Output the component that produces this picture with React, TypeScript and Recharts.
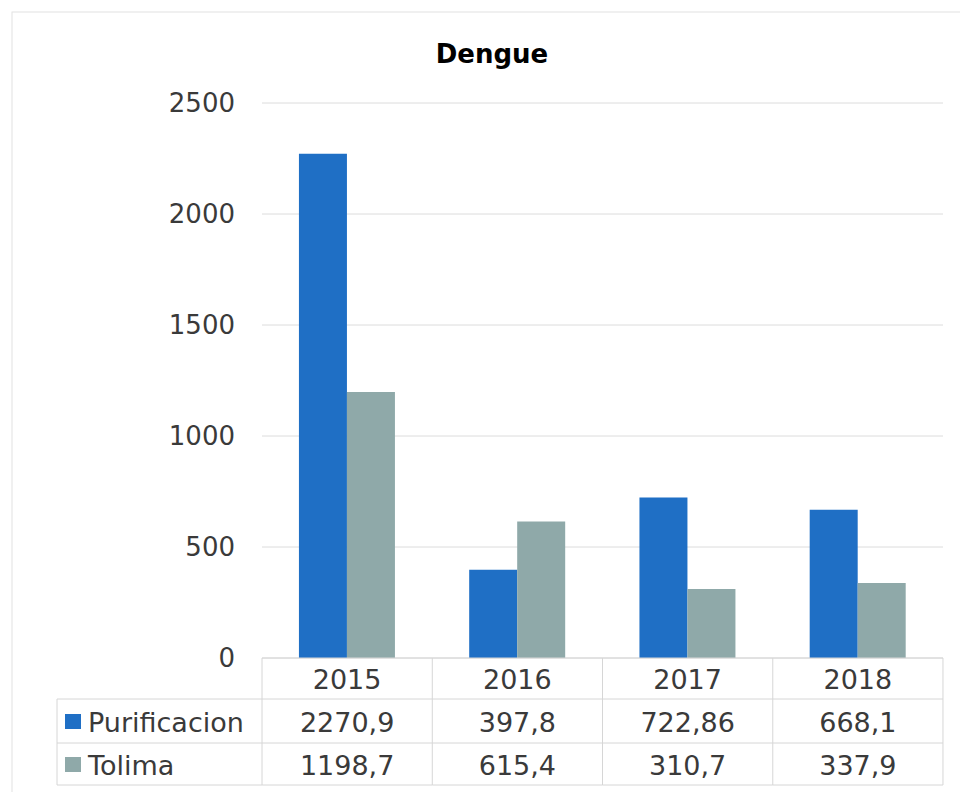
import React from 'react';
import { BarChart, Bar, XAxis, YAxis, CartesianGrid } from 'recharts';

const categories = ['2015', '2016', '2017', '2018'];
const purificacion = [2270.9, 397.8, 722.86, 668.1];
const tolima = [1198.7, 615.4, 310.7, 337.9];
const seriesNames = ['Purificacion', 'Tolima'];
const yTicks = [0, 500, 1000, 1500, 2000, 2500];

const BLUE = '#1f6fc5';
const GREY = '#8fa9a9';
const LINE = '#d6d6d6';
const TEXT = '#3a3a3a';
const FONT = '"DejaVu Sans", sans-serif';

const data = categories.map((c, i) => ({ year: c, purificacion: purificacion[i], tolima: tolima[i] }));
const fmt = (v: number) => String(v).replace('.', ',');

const HALF = 85.1;

const TableTick = (props: any) => {
  const { x, y, payload, index } = props;
  const i = index;
  const top = y;
  const r1 = top + 41;
  const r2 = top + 85;
  const r3 = top + 127;
  return (
    <g>
      <line x1={x - HALF} x2={x - HALF} y1={top} y2={r3} stroke={LINE} strokeWidth={1} />
      {i === categories.length - 1 && (
        <line x1={x + HALF} x2={x + HALF} y1={top} y2={r3} stroke={LINE} strokeWidth={1} />
      )}
      <line x1={x - HALF} x2={x + HALF} y1={r1} y2={r1} stroke={LINE} />
      <line x1={x - HALF} x2={x + HALF} y1={r2} y2={r2} stroke={LINE} />
      <line x1={x - HALF} x2={x + HALF} y1={r3} y2={r3} stroke={LINE} />
      <text x={x} y={(top + r1) / 2 + 1} textAnchor="middle" dominantBaseline="central" fontSize={27} fill={TEXT} fontFamily={FONT}>
        {payload.value}
      </text>
      <text x={x} y={(r1 + r2) / 2 + 1} textAnchor="middle" dominantBaseline="central" fontSize={27} fill={TEXT} fontFamily={FONT}>
        {fmt(purificacion[i])}
      </text>
      <text x={x} y={(r2 + r3) / 2 + 1} textAnchor="middle" dominantBaseline="central" fontSize={27} fill={TEXT} fontFamily={FONT}>
        {fmt(tolima[i])}
      </text>
      {i === 0 && (
        <g>
          <line x1={57} x2={x - HALF} y1={r1} y2={r1} stroke={LINE} />
          <line x1={57} x2={x - HALF} y1={r2} y2={r2} stroke={LINE} />
          <line x1={57} x2={x - HALF} y1={r3} y2={r3} stroke={LINE} />
          <line x1={57} x2={57} y1={r1} y2={r3} stroke={LINE} />
          <rect x={65} y={(r1 + r2) / 2 - 7} width={16} height={15} fill={BLUE} />
          <text x={88} y={(r1 + r2) / 2 + 1} dominantBaseline="central" fontSize={27} fill={TEXT} fontFamily={FONT}>
            {seriesNames[0]}
          </text>
          <rect x={65} y={(r2 + r3) / 2 - 7} width={16} height={15} fill={GREY} />
          <text x={88} y={(r2 + r3) / 2 + 1} dominantBaseline="central" fontSize={27} fill={TEXT} fontFamily={FONT}>
            {seriesNames[1]}
          </text>
        </g>
      )}
    </g>
  );
};

export default function App() {
  return (
    <div style={{ position: 'absolute', left: 0, top: 0, width: 960, height: 792, background: '#fff' }}>
      <svg width={960} height={792} style={{ position: 'absolute', left: 0, top: 0 }}>
        <rect x={12} y={12} width={1000} height={1000} fill="none" stroke="#e2e2e2" strokeWidth={1} />
        <text x={492} y={54} textAnchor="middle" dominantBaseline="central" fontSize={26} fontWeight="bold" fill="#000" fontFamily={FONT}>
          Dengue
        </text>
      </svg>
      <div style={{ position: 'absolute', left: 0, top: 0 }}>
        <BarChart
          width={960}
          height={792}
          data={data}
          margin={{ top: 103, right: 17, left: 0, bottom: 0 }}
          barCategoryGap="21.7%"
          barGap={0}
        >
          <CartesianGrid vertical={false} stroke="#dcdcdc" />
          <XAxis
            dataKey="year"
            height={134}
            axisLine={{ stroke: LINE }}
            tickLine={false}
            tickSize={0}
            tickMargin={0}
            interval={0}
            tick={<TableTick />}
          />
          <YAxis
            width={262}
            domain={[0, 2500]}
            ticks={yTicks}
            axisLine={false}
            tickLine={false}
            tickSize={0}
            tickMargin={27}
            tick={{ fontSize: 26, fill: TEXT, fontFamily: FONT }}
          />
          <Bar dataKey="purificacion" name={seriesNames[0]} fill={BLUE} isAnimationActive={false} />
          <Bar dataKey="tolima" name={seriesNames[1]} fill={GREY} isAnimationActive={false} />
        </BarChart>
      </div>
    </div>
  );
}
